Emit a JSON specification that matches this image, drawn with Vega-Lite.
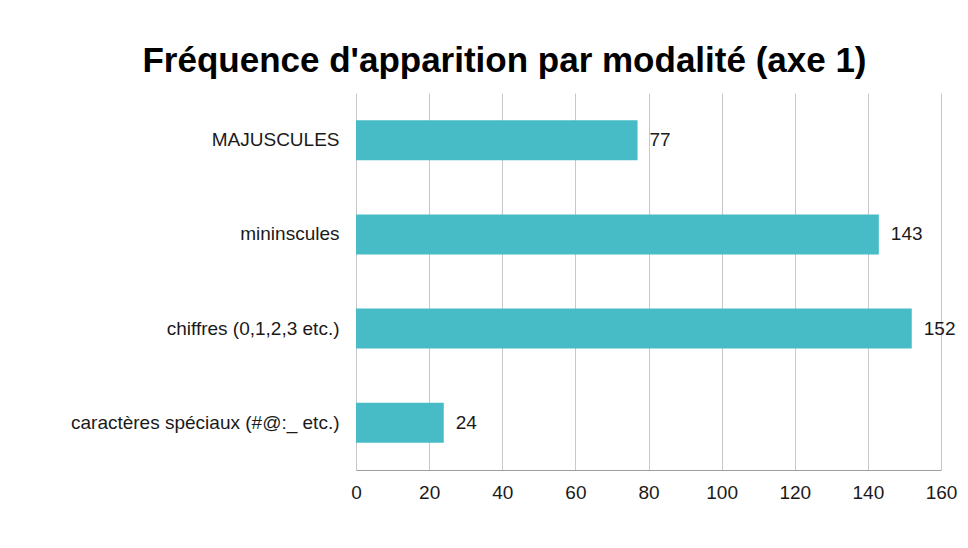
{
  "$schema": "https://vega.github.io/schema/vega-lite/v6.json",
  "autosize": "none",
  "width": 585,
  "height": 377,
  "padding": {"left": 356, "top": 93, "right": 27, "bottom": 78},
  "background": "white",
  "title": {
    "text": "Fréquence d'apparition par modalité (axe 1)",
    "font": "Liberation Sans",
    "fontSize": 35,
    "fontWeight": "bold",
    "color": "#000000",
    "anchor": "middle",
    "dx": -144,
    "offset": 14
  },
  "data": {
    "values": [
      {"modalite": "MAJUSCULES", "freq": 77},
      {"modalite": "mininscules", "freq": 143},
      {"modalite": "chiffres (0,1,2,3 etc.)", "freq": 152},
      {"modalite": "caractères spéciaux (#@:_ etc.)", "freq": 24}
    ]
  },
  "encoding": {
    "y": {
      "field": "modalite",
      "type": "nominal",
      "sort": null,
      "scale": {"paddingInner": 0.575, "paddingOuter": 0.29},
      "axis": {
        "title": null,
        "domain": false,
        "ticks": false,
        "labelFont": "Liberation Sans",
        "labelFontSize": 19,
        "labelColor": "#1a1a1a",
        "labelPadding": 17,
        "labelLimit": 400
      }
    },
    "x": {
      "field": "freq",
      "type": "quantitative",
      "scale": {"domain": [0, 160]},
      "axis": {
        "title": null,
        "values": [0, 20, 40, 60, 80, 100, 120, 140, 160],
        "grid": true,
        "gridColor": "#c8c8c8",
        "domainColor": "#a0a0a0",
        "ticks": false,
        "labelFlush": false,
        "labelFont": "Liberation Sans",
        "labelFontSize": 19,
        "labelColor": "#1a1a1a",
        "labelPadding": 13
      }
    }
  },
  "layer": [
    {"mark": {"type": "bar", "color": "#47BCC6"}},
    {
      "mark": {"type": "text", "align": "left", "dx": 12, "font": "Liberation Sans", "fontSize": 19, "color": "#1a1a1a"},
      "encoding": {"text": {"field": "freq", "type": "quantitative"}}
    }
  ],
  "config": {"view": {"stroke": null}}
}
